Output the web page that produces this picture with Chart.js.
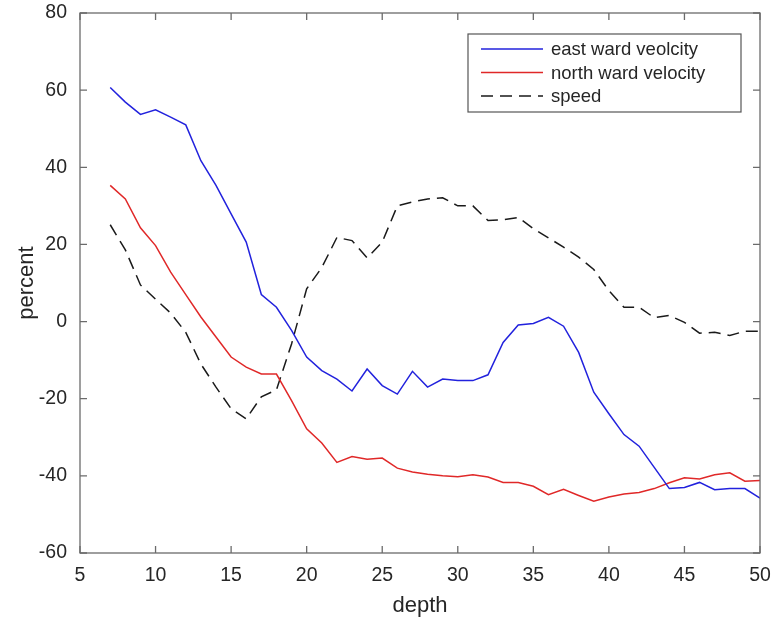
<!DOCTYPE html>
<html>
<head>
<meta charset="utf-8">
<script src="https://cdn.jsdelivr.net/npm/chart.js@4"></script>
<style>
  html, body { margin: 0; padding: 0; background: #fff; }
  #wrap { width: 773px; height: 619px; }
</style>
</head>
<body>
<div id="wrap"><canvas id="velChart" width="773" height="619"></canvas></div>
<script>
var depth = [7, 8, 9, 10, 11, 12, 13, 14, 15, 16, 17, 18, 19, 20, 21, 22, 23, 24, 25, 26, 27, 28,
             29, 30, 31, 32, 33, 34, 35, 36, 37, 38, 39, 40, 41, 42, 43, 44, 45, 46, 47, 48, 49, 50];
var eastVel = [60.7, 56.9, 53.7, 54.9, 53, 51, 41.7, 35.3, 27.9, 20.6, 7, 3.7, -2.3, -9.2, -12.7, -14.9, -18, -12.3, -16.6, -18.8, -12.9, -17,
               -14.9, -15.3, -15.3, -13.8, -5.4, -0.9, -0.5, 1.1, -1.2, -8, -18.3, -23.9, -29.3, -32.3, -37.8, -43.3, -43, -41.7, -43.6, -43.3, -43.3, -45.8];
var northVel = [35.3, 31.8, 24.3, 19.7, 12.8, 7, 1.2, -4, -9.2, -11.8, -13.6, -13.6, -20.5, -27.8, -31.5, -36.5, -35, -35.7, -35.4, -38, -39, -39.6,
                -40, -40.2, -39.7, -40.3, -41.7, -41.7, -42.7, -44.9, -43.5, -45.1, -46.6, -45.5, -44.7, -44.3, -43.3, -41.8, -40.5, -40.8, -39.7, -39.2, -41.4, -41.2];
var speed = [25.1, 18.6, 9.5, 5.8, 2.2, -2.8, -11, -17, -22.6, -25.2, -19.5, -17.7, -5.8, 8.5, 14, 21.8, 21, 16.5, 20.6, 30, 31, 31.8,
             32.1, 30, 30, 26.2, 26.4, 27, 24.1, 21.7, 19.3, 16.7, 13.5, 8, 3.7, 3.7, 1, 1.6, -0.2, -3, -2.8, -3.6, -2.5, -2.5];
var xTicks = [5, 10, 15, 20, 25, 30, 35, 40, 45, 50];
var yTicks = [-60, -40, -20, 0, 20, 40, 60, 80];

function pts(vals) {
    return depth.map((d, i) => ({x: d, y: vals[i]}));
}

var textColor = '#262626';
var axisColor = '#6b6b6b';
var fontFam = '"Liberation Sans", Arial, sans-serif';

var seriesList = [
    {label: "east ward veolcity", data: eastVel, color: '#2222dd', dash: []},
    {label: "north ward velocity", data: northVel, color: '#e02828', dash: []},
    {label: "speed", data: speed, color: '#1a1a1a', dash: [12, 7]}
];

// axis box with inward ticks + boxed legend, like the original
var framePlugin = {
    id: 'frame',
    afterDraw(chart) {
        var ctx = chart.ctx;
        var a = chart.chartArea;
        var xs = chart.scales.x, ys = chart.scales.y;
        ctx.save();
        ctx.strokeStyle = axisColor;
        ctx.lineWidth = 1.3;
        ctx.strokeRect(a.left, a.top, a.right - a.left, a.bottom - a.top);
        ctx.beginPath();
        xTicks.forEach(t => {
            var px = xs.getPixelForValue(t);
            ctx.moveTo(px, a.bottom); ctx.lineTo(px, a.bottom - 7);
            ctx.moveTo(px, a.top); ctx.lineTo(px, a.top + 7);
        });
        yTicks.forEach(t => {
            var py = ys.getPixelForValue(t);
            ctx.moveTo(a.left, py); ctx.lineTo(a.left + 7, py);
            ctx.moveTo(a.right, py); ctx.lineTo(a.right - 7, py);
        });
        ctx.stroke();

        // legend
        var bx = 468, by = 34, bw = 273, bh = 78;
        ctx.fillStyle = '#fff';
        ctx.fillRect(bx, by, bw, bh);
        ctx.strokeStyle = '#555';
        ctx.lineWidth = 1.2;
        ctx.strokeRect(bx, by, bw, bh);
        ctx.font = '18.5px ' + fontFam;
        ctx.textBaseline = 'middle';
        seriesList.forEach((s, i) => {
            var ly = by + 15 + i * 23.5;
            ctx.strokeStyle = s.color;
            ctx.lineWidth = 1.5;
            ctx.setLineDash(s.dash);
            ctx.beginPath();
            ctx.moveTo(bx + 13, ly); ctx.lineTo(bx + 75, ly);
            ctx.stroke();
            ctx.setLineDash([]);
            ctx.fillStyle = textColor;
            ctx.fillText(s.label, bx + 83, ly + 1);
        });
        ctx.restore();
    }
};

var velCtx = document.getElementById('velChart').getContext('2d');
var velChart = new Chart(velCtx, {
    type: 'line',
    data: {
        datasets: seriesList.map(s => ({
            label: s.label,
            data: pts(s.data),
            borderColor: s.color,
            borderWidth: 1.5,
            borderDash: s.dash,
            fill: false,
            pointRadius: 0,
            tension: 0
        }))
    },
    options: {
        responsive: false,
        animation: false,
        layout: {padding: {top: 13, right: 13, left: 0, bottom: 0}},
        plugins: {legend: {display: false}, tooltip: {enabled: false}},
        scales: {
            x: {
                type: 'linear',
                min: 5, max: 50,
                afterBuildTicks: sc => { sc.ticks = xTicks.map(v => ({value: v})); },
                afterFit: sc => { sc.height = 66; sc.paddingLeft = 0; sc.paddingRight = 0; },
                grid: {display: false},
                border: {display: false},
                ticks: {color: textColor, font: {size: 19.5, family: fontFam}, padding: 3, maxRotation: 0},
                title: {display: true, text: 'depth', color: textColor, font: {size: 22, family: fontFam}, padding: {top: 0, bottom: 0}}
            },
            y: {
                type: 'linear',
                min: -60, max: 80,
                afterBuildTicks: sc => { sc.ticks = yTicks.map(v => ({value: v})); },
                afterFit: sc => { sc.width = 80; sc.paddingTop = 0; sc.paddingBottom = 0; },
                grid: {display: false},
                border: {display: false},
                ticks: {color: textColor, font: {size: 19.5, family: fontFam}, padding: 5},
                title: {display: true, text: 'percent', color: textColor, font: {size: 22, family: fontFam}, padding: {top: 14, bottom: 0}}
            }
        }
    },
    plugins: [framePlugin]
});
</script>
</body>
</html>
